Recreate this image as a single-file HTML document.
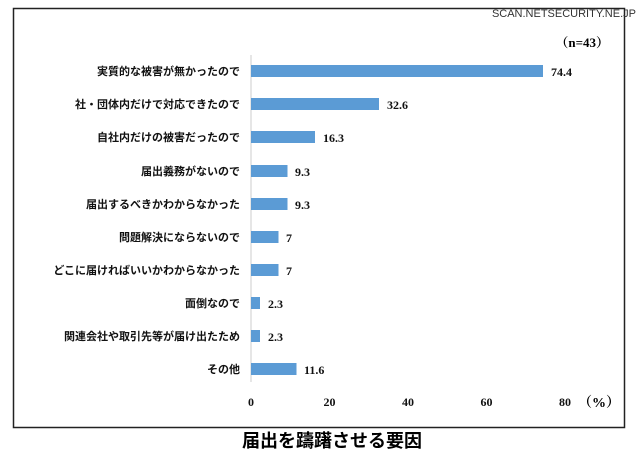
<!DOCTYPE html>
<html><head><meta charset="utf-8"><style>
body{margin:0;width:640px;height:465px;background:#fff;overflow:hidden}
svg text{font-family:"Liberation Serif","Noto Serif CJK SC",serif;font-weight:bold}
svg .jp{font-family:"Liberation Serif","Noto Sans CJK JP",sans-serif;font-weight:bold}
</style></head><body>
<svg width="640" height="465" xmlns="http://www.w3.org/2000/svg">
<rect x="13.5" y="8.5" width="611" height="419" fill="none" stroke="#222" stroke-width="1.5"/>
<text x="636" y="17" font-size="11" text-anchor="end" style="font-family:'Liberation Sans',sans-serif;font-weight:normal" fill="#333">SCAN.NETSECURITY.NE.JP</text>
<text x="609" y="47" font-size="13" text-anchor="end">（n=43）</text>
<line x1="251" y1="55" x2="251" y2="382" stroke="#ccc" stroke-width="1"/>
<g fill="#5b9bd5">
<rect x="251" y="65" width="292" height="12"/>
<rect x="251" y="98" width="128" height="12"/>
<rect x="251" y="131" width="64" height="12"/>
<rect x="251" y="165" width="36.5" height="12"/>
<rect x="251" y="198" width="36.5" height="12"/>
<rect x="251" y="231" width="27.5" height="12"/>
<rect x="251" y="264" width="27.5" height="12"/>
<rect x="251" y="297" width="9" height="12"/>
<rect x="251" y="330" width="9" height="12"/>
<rect x="251" y="363" width="45.5" height="12"/>
</g>
<g font-size="11" text-anchor="end" fill="#111" class="jp">
<text class="jp" x="240" y="75">実質的な被害が無かったので</text>
<text class="jp" x="240" y="108">社・団体内だけで対応できたので</text>
<text class="jp" x="240" y="141">自社内だけの被害だったので</text>
<text class="jp" x="240" y="175">届出義務がないので</text>
<text class="jp" x="240" y="208">届出するべきかわからなかった</text>
<text class="jp" x="240" y="241">問題解決にならないので</text>
<text class="jp" x="240" y="274">どこに届ければいいかわからなかった</text>
<text class="jp" x="240" y="307">面倒なので</text>
<text class="jp" x="240" y="340">関連会社や取引先等が届け出たため</text>
<text class="jp" x="240" y="373">その他</text>
</g>
<g font-size="12" fill="#111">
<text x="551" y="76">74.4</text>
<text x="387" y="109">32.6</text>
<text x="323" y="142">16.3</text>
<text x="295" y="176">9.3</text>
<text x="295" y="209">9.3</text>
<text x="286" y="242">7</text>
<text x="286" y="275">7</text>
<text x="268" y="308">2.3</text>
<text x="268" y="341">2.3</text>
<text x="304" y="374">11.6</text>
</g>
<g font-size="12" text-anchor="middle" fill="#111">
<text x="251" y="406">0</text>
<text x="329.5" y="406">20</text>
<text x="408" y="406">40</text>
<text x="486.5" y="406">60</text>
<text x="565" y="406">80</text>
</g>
<text x="578" y="407" font-size="14">（%）</text>
<text x="332" y="447" font-size="18" text-anchor="middle" style="font-family:'Liberation Sans','Noto Sans CJK JP',sans-serif" fill="#000">届出を躊躇させる要因</text>
</svg>
</body></html>
